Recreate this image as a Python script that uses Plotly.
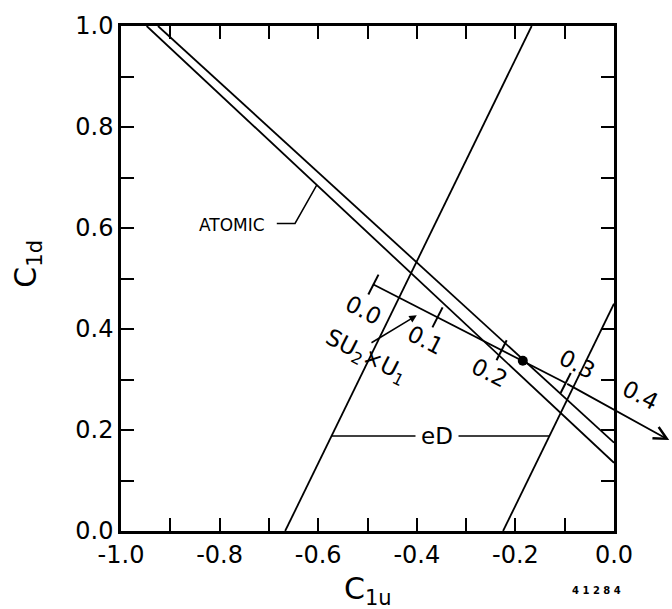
import plotly.graph_objects as go

# ---- axis ticks -------------------------------------------------------------
x_ticks = [-1.0, -0.9, -0.8, -0.7, -0.6, -0.5, -0.4, -0.3, -0.2, -0.1, 0.0]
x_ticklabels = ["-1.0", "", "-0.8", "", "-0.6", "", "-0.4", "", "-0.2", "", "0.0"]
y_ticks = [0.0, 0.1, 0.2, 0.3, 0.4, 0.5, 0.6, 0.7, 0.8, 0.9, 1.0]
y_ticklabels = ["0.0", "", "0.2", "", "0.4", "", "0.6", "", "0.8", "", "1.0"]

# ---- atomic parity-violation band (two edges) -------------------------------
atomic_lo_c1u = [-0.948, 0.0]
atomic_lo_c1d = [1.0, 0.135]
atomic_hi_c1u = [-0.925, 0.0]
atomic_hi_c1d = [1.0, 0.175]

# ---- eD band (two edges) ----------------------------------------------------
ed_left_c1u = [-0.667, -0.167]
ed_left_c1d = [0.0, 1.0]
ed_right_c1u = [-0.225, 0.0]
ed_right_c1d = [0.0, 0.45]

# ---- SU2 x U1 prediction, marked in sin^2(theta_W) -------------------------
sin2w = [0.0, 0.1, 0.2, 0.3, 0.4]
su2_c1u = [-0.488, -0.358, -0.228, -0.098, 0.032]
su2_c1d = [0.488, 0.423, 0.358, 0.293, 0.228]
su2_tip_c1u = 0.112
su2_tip_c1d = 0.180
best_c1u = [-0.185]
best_c1d = [0.337]

# ---- label anchors ----------------------------------------------------------
sin2_label_c1u = [-0.509, -0.383, -0.252, -0.075, 0.0]
sin2_label_c1d = [0.437, 0.378, 0.312, 0.331, 0.269]
sin2_label_xshift = [0, 0, 0, 0, 26]

FONT = "DejaVu Sans"
LW = 1.8
ANG = 27  # screen angle of the SU2 x U1 line

fig = go.Figure()


def seg(xs, ys, width=LW):
    fig.add_trace(go.Scatter(x=xs, y=ys, mode="lines",
                             line=dict(color="black", width=width),
                             hoverinfo="skip", showlegend=False))


seg(atomic_lo_c1u, atomic_lo_c1d)
seg(atomic_hi_c1u, atomic_hi_c1d)
seg(ed_left_c1u, ed_left_c1d)
seg(ed_right_c1u, ed_right_c1d)

# SU2 x U1 line inside the frame
seg([su2_c1u[0], su2_c1u[3]], [su2_c1d[0], su2_c1d[3]])

# tick marks across the SU2 x U1 line
fig.add_trace(go.Scatter(
    x=su2_c1u, y=su2_c1d, mode="markers", cliponaxis=False,
    marker=dict(symbol="line-ns", size=16, angle=ANG,
                line=dict(color="black", width=2)),
    hoverinfo="skip", showlegend=False))

# best-fit point
fig.add_trace(go.Scatter(
    x=best_c1u, y=best_c1d, mode="markers", cliponaxis=False,
    marker=dict(symbol="circle", size=10, color="black"),
    hoverinfo="skip", showlegend=False))

# continuation of the SU2 x U1 line past the frame, ending in an arrow
fig.add_annotation(x=su2_tip_c1u, y=su2_tip_c1d, ax=su2_c1u[3], ay=su2_c1d[3],
                   xref="x", yref="y", axref="x", ayref="y", text="",
                   showarrow=True, arrowhead=5, arrowsize=1.4,
                   arrowwidth=LW, arrowcolor="black")

# sin^2 theta_W labels
for v, lx, ly, xs in zip(sin2w, sin2_label_c1u, sin2_label_c1d, sin2_label_xshift):
    fig.add_annotation(x=lx, y=ly, xref="x", yref="y", text=f"{v:.1f}",
                       showarrow=False, textangle=ANG, xshift=xs,
                       xanchor="center", yanchor="middle",
                       font=dict(family=FONT, size=23, color="black"))

# SU2 x U1 label with its pointer
fig.add_annotation(x=-0.503, y=0.345, xref="x", yref="y",
                   text="SU<sub>2</sub>×U<sub>1</sub>", showarrow=False,
                   textangle=ANG, xanchor="center", yanchor="middle",
                   font=dict(family=FONT, size=23, color="black"))
fig.add_annotation(x=-0.400, y=0.427, ax=-0.495, ay=0.371,
                   xref="x", yref="y", axref="x", ayref="y", text="",
                   showarrow=True, arrowhead=2, arrowsize=1.0,
                   arrowwidth=1.5, arrowcolor="black")

# ATOMIC label and leader
seg([-0.684, -0.647, -0.603], [0.609, 0.609, 0.685], width=1.5)
fig.add_annotation(x=-0.775, y=0.606, xref="x", yref="y", text="ATOMIC",
                   showarrow=False, xanchor="center", yanchor="middle",
                   font=dict(family=FONT, size=17, color="black"))

# eD label and leader
seg([-0.573, -0.131], [0.188, 0.188], width=1.5)
fig.add_annotation(x=-0.359, y=0.188, xref="x", yref="y", text="eD",
                   showarrow=False, bgcolor="white", borderpad=5,
                   xanchor="center", yanchor="middle",
                   font=dict(family=FONT, size=23, color="black"))

# axis titles and figure number
fig.add_annotation(x=0.5, y=-0.118, xref="paper", yref="paper",
                   text="C<sub>1u</sub>", showarrow=False,
                   xanchor="center", yanchor="middle",
                   font=dict(family=FONT, size=30, color="black"))
fig.add_annotation(x=-0.19, y=0.53, xref="paper", yref="paper",
                   text="C<sub>1d</sub>", showarrow=False, textangle=-90,
                   xanchor="center", yanchor="middle",
                   font=dict(family=FONT, size=30, color="black"))
fig.add_annotation(x=0.965, y=-0.118, xref="paper", yref="paper",
                   text="<b>4 1 2 8 4</b>", showarrow=False,
                   xanchor="center", yanchor="middle",
                   font=dict(family=FONT, size=10, color="black"))

axis_common = dict(showline=True, linecolor="black", linewidth=2.5,
                   mirror="ticks", ticks="inside", ticklen=13, tickwidth=2,
                   tickcolor="black", showgrid=False, zeroline=False,
                   tickfont=dict(family=FONT, size=24, color="black"))

fig.update_xaxes(range=[-1.0, 0.0], tickmode="array", tickvals=x_ticks,
                 ticktext=x_ticklabels, ticklabelstandoff=0, **axis_common)
fig.update_yaxes(range=[0.0, 1.0], tickmode="array", tickvals=y_ticks,
                 ticktext=y_ticklabels, ticklabelstandoff=0, **axis_common)

fig.update_layout(width=672, height=609,
                  margin=dict(l=121, r=58, t=21, b=78),
                  paper_bgcolor="white", plot_bgcolor="white",
                  showlegend=False)

fig.write_html("out.html")
